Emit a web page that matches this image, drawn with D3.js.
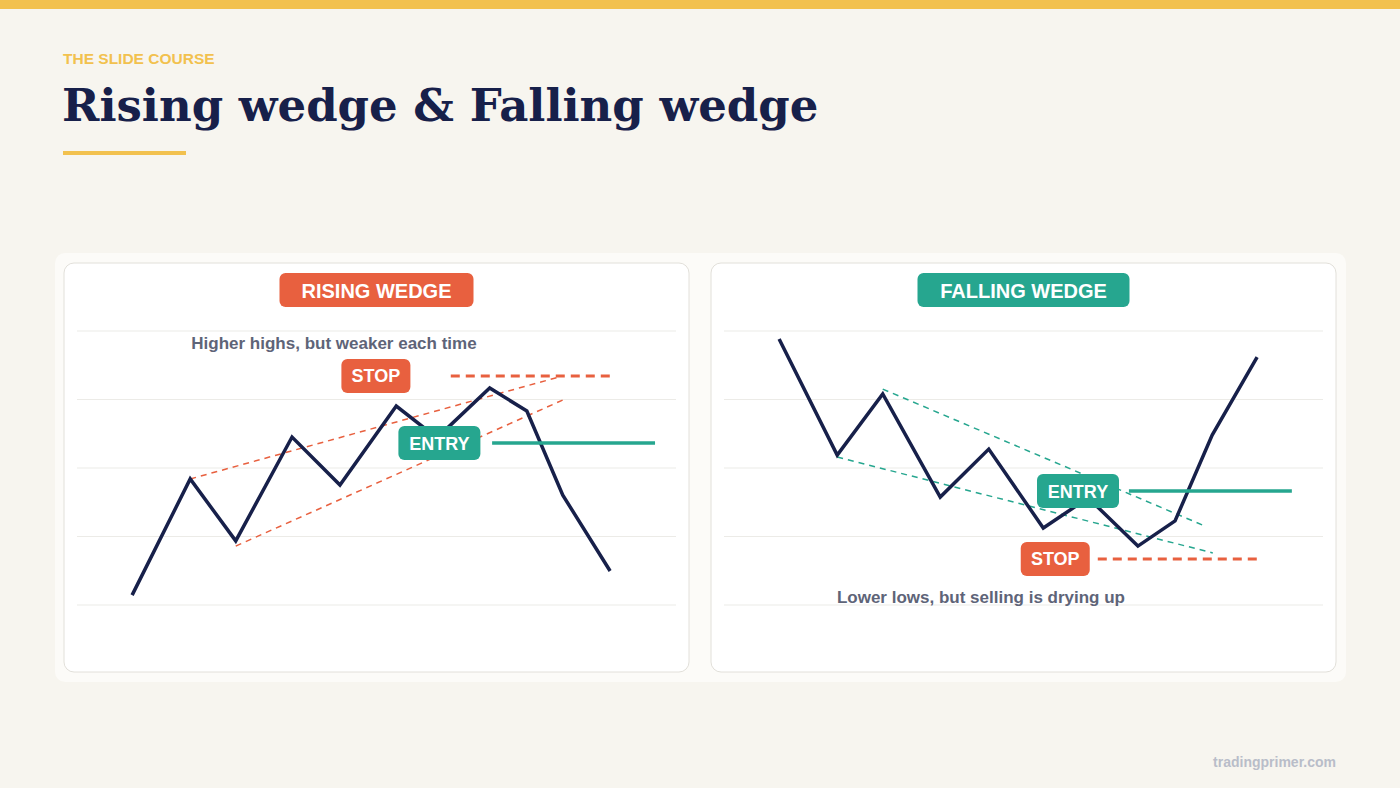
<!DOCTYPE html>
<html><head><meta charset="utf-8">
<script src="https://cdn.jsdelivr.net/npm/d3@7"></script>
<style>body{margin:0;background:#f7f5ef}svg{display:block}</style>
</head><body><div id="chart"></div>
<script>
const W = 1400, H = 788
const RED = '#e8603f', TEAL = '#26a68f', NAVY = '#17204a'

// grid values (price units 0..100)
const gridValues = [0, 25, 50, 75, 100]

// rising wedge
const risingPrice = [[9.2, 3.6], [18.9, 46], [26.5, 23.4], [35.9, 61.3], [43.9, 43.8], [53.3, 72.6],
  [60.1, 61], [68.9, 79.2], [75.1, 70.8], [81.1, 40.1], [89, 12.4]]
const risingUpper = [[18.9, 46], [81.1, 83.6]]
const risingLower = [[26.5, 21.5], [81.5, 75.2]]
const risingStop = { x0: 62.4, x1: 89, y: 83.6, label: 'STOP', lx: 49.9 }
const risingEntry = { x0: 69.3, x1: 96.5, y: 59.1, label: 'ENTRY', lx: 60.5 }
const risingNote = { x: 42.9, y: 95.5, text: 'Higher highs, but weaker each time' }

// falling wedge
const fallingPrice = [[9.2, 97.1], [18.9, 54.7], [26.5, 77], [36.1, 39.4], [44.2, 56.9], [53.3, 28.1],
  [60.8, 39.1], [69.1, 21.5], [75.3, 30.7], [81.5, 62], [89, 90.5]]
const fallingUpper = [[26.5, 78.8], [80.3, 28.8]]
const fallingLower = [[18.9, 54], [81.6, 19]]
const fallingStop = { x0: 62.4, x1: 89, y: 16.8, label: 'STOP', lx: 55.3 }
const fallingEntry = { x0: 67.6, x1: 94.8, y: 41.6, label: 'ENTRY', lx: 59.1 }
const fallingNote = { x: 42.9, y: 3, text: 'Lower lows, but selling is drying up' }

const svg = d3.select('#chart').append('svg').attr('width', W).attr('height', H)
  .style('font-family', 'Liberation Sans, Arial, sans-serif')

svg.append('rect').attr('width', W).attr('height', H).attr('fill', '#f7f5ef')
svg.append('rect').attr('width', W).attr('height', 9).attr('fill', '#f2c14e')
svg.append('text').attr('x', 63).attr('y', 64).text('THE SLIDE COURSE')
  .attr('fill', '#f2c14e').attr('font-size', 15.5).attr('font-weight', 700)
svg.append('text').attr('x', 62).attr('y', 121).text('Rising wedge & Falling wedge')
  .attr('fill', NAVY).attr('font-size', 45).attr('font-weight', 700)
  .style('font-family', 'DejaVu Serif, serif')
svg.append('rect').attr('x', 63).attr('y', 151).attr('width', 123).attr('height', 4).attr('fill', '#f2c14e')
svg.append('text').attr('x', 1336).attr('y', 767).attr('text-anchor', 'end').text('tradingprimer.com')
  .attr('fill', '#b9bdc9').attr('font-size', 14).attr('font-weight', 700)

svg.append('rect').attr('x', 55).attr('y', 253).attr('width', 1291).attr('height', 429)
  .attr('rx', 10).attr('fill', '#fcfbf8')

function panel(px, title, titleColor, titleW, price, upper, lower, stop, entry, note) {
  const g = svg.append('g')
  g.append('rect').attr('x', px).attr('y', 263).attr('width', 625).attr('height', 409)
    .attr('rx', 10).attr('fill', '#fff').attr('stroke', '#e2e0da')
  const x = d3.scaleLinear().domain([0, 100]).range([px + 13, px + 612])
  const y = d3.scaleLinear().domain([0, 100]).range([605, 331])

  g.selectAll('.grid').data(gridValues).enter().append('line')
    .attr('x1', x(0)).attr('x2', x(100)).attr('y1', d => y(d)).attr('y2', d => y(d))
    .attr('stroke', '#ecebe7').attr('stroke-width', 1.2)

  const cx = px + 312.5
  g.append('rect').attr('x', cx - titleW / 2).attr('y', 273).attr('width', titleW).attr('height', 34)
    .attr('rx', 6).attr('fill', titleColor)
  g.append('text').attr('x', cx).attr('y', 298).attr('text-anchor', 'middle').text(title)
    .attr('fill', '#fff').attr('font-size', 20).attr('font-weight', 700)

  g.append('text').attr('x', x(note.x)).attr('y', y(note.y) + 6).attr('text-anchor', 'middle')
    .text(note.text).attr('fill', '#5e6478').attr('font-size', 17).attr('font-weight', 700)

  const line = d3.line().x(d => x(d[0])).y(d => y(d[1]))
  ;[upper, lower].forEach(tl => g.append('path').attr('d', line(tl)).attr('fill', 'none')
    .attr('stroke', titleColor).attr('stroke-width', 1.5).attr('stroke-dasharray', '6,5'))

  g.append('path').attr('d', line(price)).attr('fill', 'none').attr('stroke', NAVY)
    .attr('stroke-width', 3.5).attr('stroke-linejoin', 'miter')

  g.append('line').attr('x1', x(stop.x0)).attr('x2', x(stop.x1)).attr('y1', y(stop.y)).attr('y2', y(stop.y))
    .attr('stroke', RED).attr('stroke-width', 3).attr('stroke-dasharray', '9,6')
  g.append('line').attr('x1', x(entry.x0)).attr('x2', x(entry.x1)).attr('y1', y(entry.y)).attr('y2', y(entry.y))
    .attr('stroke', TEAL).attr('stroke-width', 3.5)

  ;[[stop, RED, 69], [entry, TEAL, 82]].forEach(([d, c, w]) => {
    g.append('rect').attr('x', x(d.lx) - w / 2).attr('y', y(d.y) - 17).attr('width', w).attr('height', 34)
      .attr('rx', 6).attr('fill', c)
    g.append('text').attr('x', x(d.lx)).attr('y', y(d.y) + 6.5).attr('text-anchor', 'middle')
      .text(d.label).attr('fill', '#fff').attr('font-size', 18).attr('font-weight', 700)
  })
}

panel(64, 'RISING WEDGE', RED, 194, risingPrice, risingUpper, risingLower, risingStop, risingEntry, risingNote)
panel(711, 'FALLING WEDGE', TEAL, 212, fallingPrice, fallingUpper, fallingLower, fallingStop, fallingEntry, fallingNote)
</script></body></html>
